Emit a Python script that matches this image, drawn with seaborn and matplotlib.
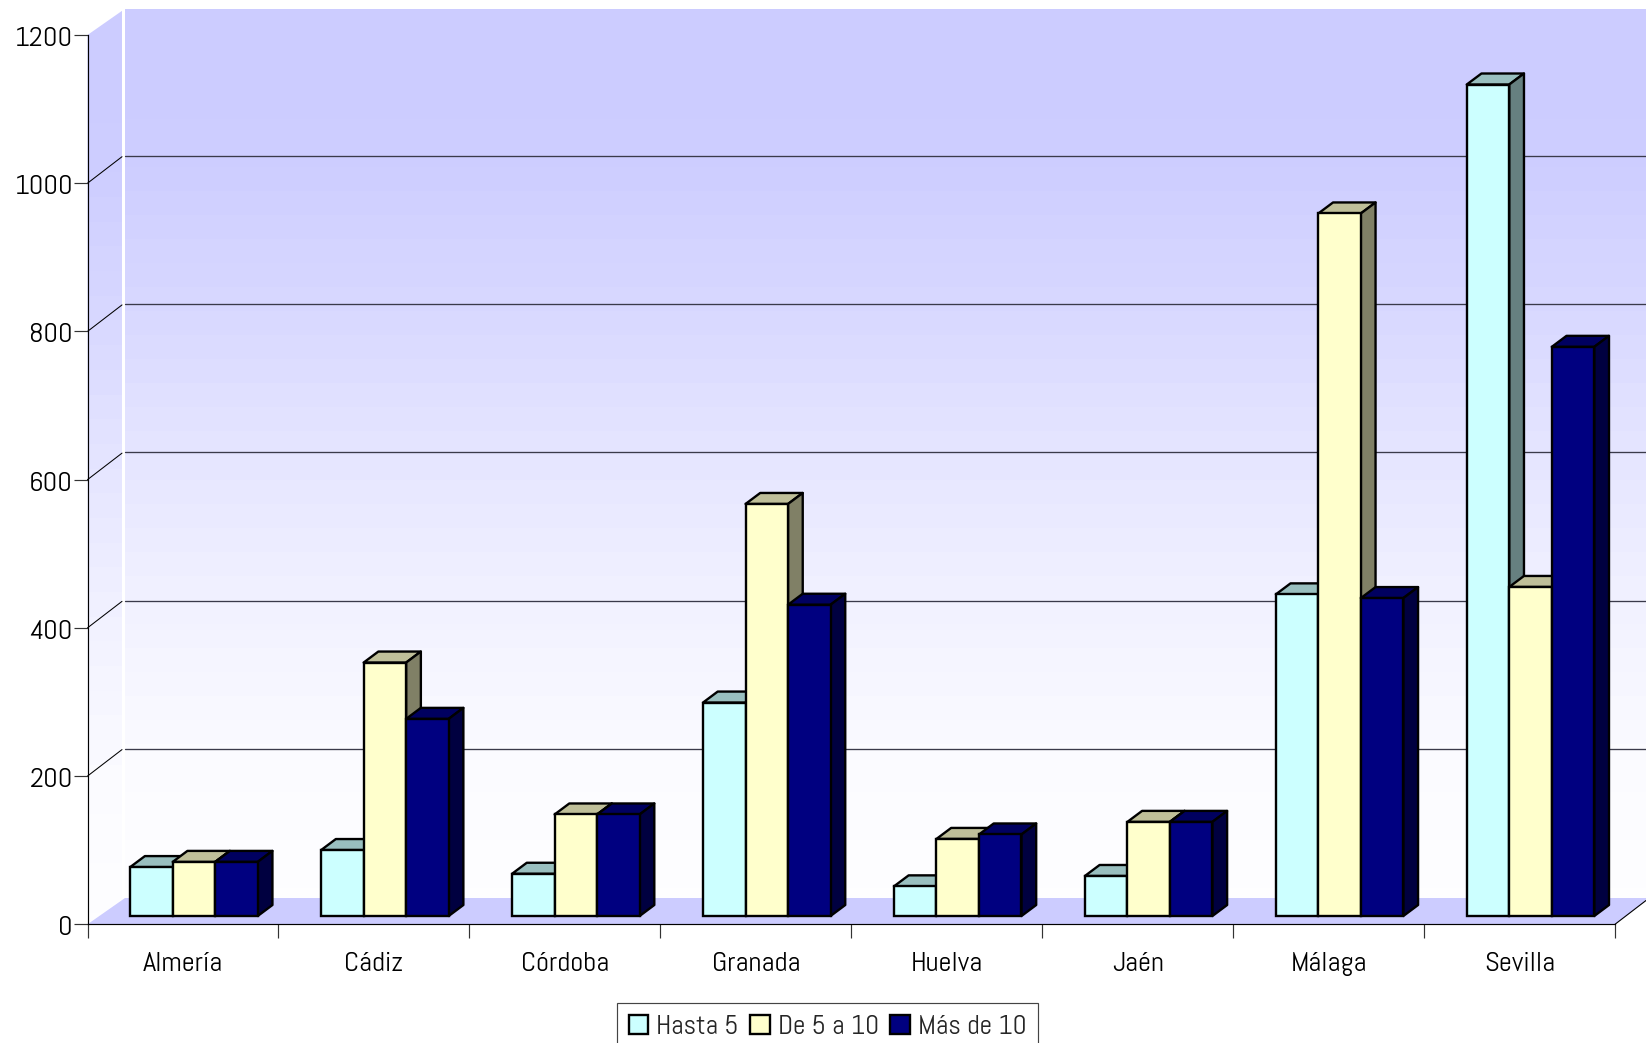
import numpy as np
import pandas as pd
import matplotlib
matplotlib.use("Agg")
import matplotlib.pyplot as plt
import seaborn as sns
from matplotlib.patches import Polygon, Patch
from matplotlib.transforms import Affine2D, IdentityTransform
from matplotlib.ticker import FixedLocator

provincias = ["Almería", "Cádiz", "Córdoba", "Granada", "Huelva", "Jaén", "Málaga", "Sevilla"]
series = ["Hasta 5", "De 5 a 10", "Más de 10"]
hasta5 = [66, 89, 57, 288, 40, 54, 434, 1122]
de5a10 = [73, 342, 137, 556, 104, 127, 948, 444]
mas10 = [73, 266, 137, 420, 110, 127, 429, 768]
y_ticks = [0, 200, 400, 600, 800, 1000, 1200]

front = ["#CCFFFF", "#FFFFCC", "#000080"]
top_c = ["#99BFBF", "#BFBF99", "#000060"]
side_c = ["#668080", "#808066", "#000040"]

sns.set_theme(style="white")
plt.rcParams["font.family"] = ["Abel", "Roboto", "DejaVu Sans"]

W, H = 1646, 1043
L, R, Y0, Y1 = 87.5, 1615.0, 924.3, 35.0
fig = plt.figure(figsize=(W / 100, H / 100), dpi=100, facecolor="white")

# pixel-space backdrop
bg = fig.add_axes([0, 0, 1, 1], zorder=0)
bg.set_xlim(0, W)
bg.set_ylim(H, 0)
bg.axis("off")
DX, DY = 35.0, 26.5
px_per_unit = (Y0 - Y1) / 1200.0
stops_y = [10, 150, 305, 453, 600, 750, 898]
stops_t = [0.0, 0.03, 0.25, 0.52, 0.75, 0.93, 0.99]
rows = np.arange(10, 899)
band = 24
t = np.interp((rows // band) * band, stops_y, stops_t)
c0 = np.array([0xCC, 0xCC, 0xFF]) / 255.0
grad = (c0[None, :] * (1 - t[:, None]) + t[:, None])[:, None, :]
bg.imshow(grad, extent=(125, W, 899, 9.5), aspect="auto", zorder=1, interpolation="nearest")
side_im = bg.imshow(grad, extent=(L, L + 35, 924, 10), aspect="auto", zorder=1, interpolation="nearest")
side_poly = Polygon([(L, Y1), (L + 35, 10.5), (L + 35, 898), (L, Y0)], closed=True, transform=bg.transData)
side_im.set_clip_path(side_poly)
bg.set_xlim(0, W)
bg.set_ylim(H, 0)

bg.add_patch(Polygon([(L, Y0), (L + 37.5, 898), (W, 898), (W, 900.5), (R, Y0)],
                     closed=True, facecolor="#CCCCFF", edgecolor="none", zorder=2))
bg.plot([R, W], [Y0, 900.5], color="black", lw=0.8, zorder=3)
for v in y_ticks[1:-1]:
    yf = Y0 - v * px_per_unit
    bg.plot([L, L + 34.5], [yf, yf - DY], color="black", lw=0.75, zorder=3)
    bg.plot([125, W], [yf - DY - 0.7] * 2, color="#3A3A4A", lw=0.95, zorder=3)

# main chart
ax = fig.add_axes([L / W, 1 - Y0 / H, (R - L) / W, (Y0 - Y1) / H], zorder=1)
ax.patch.set_alpha(0)
df = pd.DataFrame({
    "Provincia": provincias * 3,
    "Serie": np.repeat(series, len(provincias)),
    "Total": hasta5 + de5a10 + mas10,
})
sns.barplot(data=df, x="Provincia", y="Total", hue="Serie", order=provincias, hue_order=series,
            palette=front, saturation=1, width=0.668, gap=0, edgecolor="black", linewidth=1.7,
            legend=False, ax=ax)
ax.set_xlim(-0.5, 7.5)
ax.set_ylim(0, 1200)
ax.set_xlabel("")
ax.set_ylabel("")

shift = Affine2D().translate(11.0, 8.3)
tr = ax.transData + shift
unit_x = (R - L) / 8.0
d_x = 14.7 / unit_x
d_y = 11.0 / px_per_unit
for i, cont in enumerate(ax.containers):
    for bar in cont.patches:
        bar.set_transform(tr)
        bar.set_clip_on(False)
        bar.set_zorder(4 + 2 * i)
        bar.set_joinstyle("miter")
        x0, x1, h = bar.get_x(), bar.get_x() + bar.get_width(), bar.get_height()
        ax.add_patch(Polygon([(x0, h), (x1, h), (x1 + d_x, h + d_y), (x0 + d_x, h + d_y)], closed=True,
                             facecolor=top_c[i], edgecolor="black", lw=1.7, transform=tr,
                             clip_on=False, zorder=3 + 2 * i, joinstyle="round"))
        ax.add_patch(Polygon([(x1, 0), (x1, h), (x1 + d_x, h + d_y), (x1 + d_x, d_y)], closed=True,
                             facecolor=side_c[i], edgecolor="black", lw=1.7, transform=tr,
                             clip_on=False, zorder=3 + 2 * i, joinstyle="round"))

for s in ("top", "right"):
    ax.spines[s].set_visible(False)
for s in ("left", "bottom"):
    ax.spines[s].set_color("black")
    ax.spines[s].set_linewidth(0.85)

ax.set_yticks(y_ticks)
ax.set_yticklabels([str(v) for v in y_ticks])
ax.tick_params(axis="y", which="major", left=True, length=10, width=0.85, color="#333333", pad=0.5, labelsize=20.5, labelcolor="black")
for lab in ax.get_yticklabels():
    lab.set_transform(lab.get_transform() + Affine2D().translate(0, -1.5))
ax.xaxis.set_major_locator(FixedLocator(np.arange(-0.5, 8.0, 1.0)))
ax.xaxis.set_minor_locator(FixedLocator(np.arange(0, 8)))
ax.set_xticklabels([""] * 9)
ax.set_xticklabels(provincias, minor=True)
ax.tick_params(axis="x", which="major", bottom=True, length=10, width=0.85, color="#333333")
ax.tick_params(axis="x", which="minor", bottom=False, length=0, pad=20, labelsize=20.5, labelcolor="black")

handles = [Patch(facecolor=c, edgecolor="black", lw=1.7, label=s) for c, s in zip(front, series)]
leg = ax.legend(handles=handles, ncol=3, loc="upper left", bbox_to_anchor=(617.3, H - 1003.3),
                bbox_transform=IdentityTransform(), fancybox=False, framealpha=1, edgecolor="#444444",
                fontsize=19.8, handlelength=0.7, handleheight=0.7, handletextpad=0.3,
                columnspacing=0.42, borderpad=0.42, borderaxespad=0)
leg.get_frame().set_linewidth(0.85)
leg.set_zorder(20)

fig.savefig("out.png", dpi=100, facecolor="white")
